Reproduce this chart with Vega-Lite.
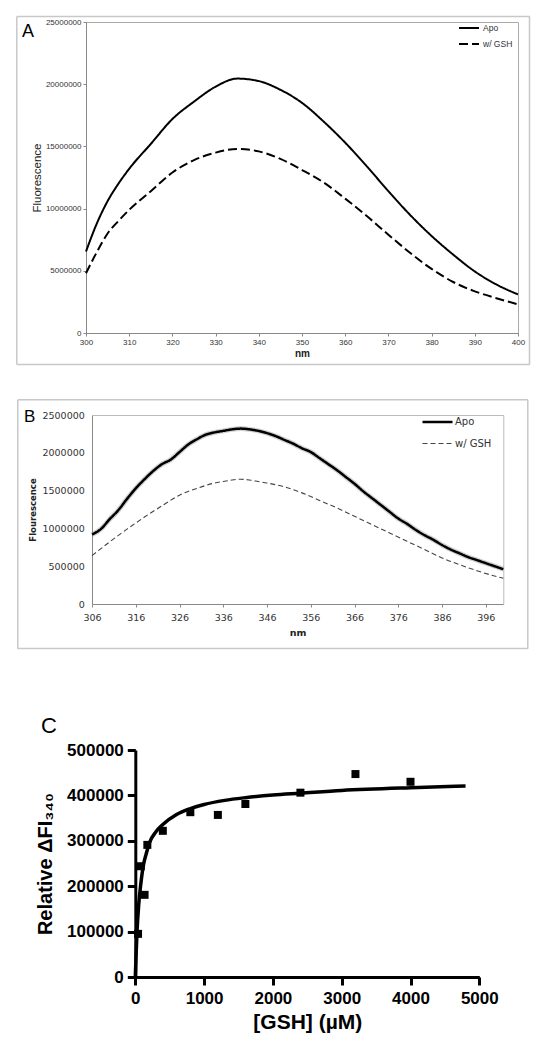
{
  "$schema": "https://vega.github.io/schema/vega-lite/v6.json",
  "padding": {"left": 13, "top": 15, "right": 0, "bottom": 0},
  "background": "white",
  "config": {"view": {"stroke": null}, "font": "Liberation Sans", "axis": {"grid": false, "labelFlush": false, "labelOverlap": false}},
  "datasets": {
    "a": [
      {"nm": 300, "series": "Apo", "f": 6550000}, {"nm": 302.5, "series": "Apo", "f": 8800000}, {"nm": 305, "series": "Apo", "f": 10600000}, {"nm": 307.5, "series": "Apo", "f": 12000000}, {"nm": 310, "series": "Apo", "f": 13200000}, {"nm": 315, "series": "Apo", "f": 15200000}, {"nm": 320, "series": "Apo", "f": 17200000}, {"nm": 325, "series": "Apo", "f": 18600000}, {"nm": 330, "series": "Apo", "f": 19800000}, {"nm": 335, "series": "Apo", "f": 20450000}, {"nm": 340, "series": "Apo", "f": 20250000}, {"nm": 345, "series": "Apo", "f": 19550000}, {"nm": 350, "series": "Apo", "f": 18500000}, {"nm": 355, "series": "Apo", "f": 17000000}, {"nm": 360, "series": "Apo", "f": 15300000}, {"nm": 365, "series": "Apo", "f": 13400000}, {"nm": 370, "series": "Apo", "f": 11400000}, {"nm": 375, "series": "Apo", "f": 9500000}, {"nm": 380, "series": "Apo", "f": 7800000}, {"nm": 385, "series": "Apo", "f": 6300000}, {"nm": 390, "series": "Apo", "f": 4950000}, {"nm": 395, "series": "Apo", "f": 3900000}, {"nm": 400, "series": "Apo", "f": 3100000},
      {"nm": 300, "series": "w/ GSH", "f": 4800000}, {"nm": 302.5, "series": "w/ GSH", "f": 6500000}, {"nm": 305, "series": "w/ GSH", "f": 8000000}, {"nm": 307.5, "series": "w/ GSH", "f": 9000000}, {"nm": 310, "series": "w/ GSH", "f": 9900000}, {"nm": 315, "series": "w/ GSH", "f": 11400000}, {"nm": 320, "series": "w/ GSH", "f": 12900000}, {"nm": 325, "series": "w/ GSH", "f": 13900000}, {"nm": 330, "series": "w/ GSH", "f": 14500000}, {"nm": 335, "series": "w/ GSH", "f": 14800000}, {"nm": 340, "series": "w/ GSH", "f": 14600000}, {"nm": 345, "series": "w/ GSH", "f": 14000000}, {"nm": 350, "series": "w/ GSH", "f": 13100000}, {"nm": 355, "series": "w/ GSH", "f": 12100000}, {"nm": 360, "series": "w/ GSH", "f": 10800000}, {"nm": 365, "series": "w/ GSH", "f": 9400000}, {"nm": 370, "series": "w/ GSH", "f": 7900000}, {"nm": 375, "series": "w/ GSH", "f": 6450000}, {"nm": 380, "series": "w/ GSH", "f": 5150000}, {"nm": 385, "series": "w/ GSH", "f": 4100000}, {"nm": 390, "series": "w/ GSH", "f": 3350000}, {"nm": 395, "series": "w/ GSH", "f": 2800000}, {"nm": 400, "series": "w/ GSH", "f": 2300000}
    ],
    "b": [
      {"nm": 306, "series": "Apo", "f": 920000}, {"nm": 308, "series": "Apo", "f": 990000}, {"nm": 310, "series": "Apo", "f": 1120000}, {"nm": 312, "series": "Apo", "f": 1240000}, {"nm": 314, "series": "Apo", "f": 1390000}, {"nm": 316, "series": "Apo", "f": 1530000}, {"nm": 318, "series": "Apo", "f": 1650000}, {"nm": 320, "series": "Apo", "f": 1760000}, {"nm": 322, "series": "Apo", "f": 1850000}, {"nm": 324, "series": "Apo", "f": 1910000}, {"nm": 326, "series": "Apo", "f": 2010000}, {"nm": 328, "series": "Apo", "f": 2110000}, {"nm": 330, "series": "Apo", "f": 2180000}, {"nm": 332, "series": "Apo", "f": 2240000}, {"nm": 334, "series": "Apo", "f": 2270000}, {"nm": 336, "series": "Apo", "f": 2290000}, {"nm": 338, "series": "Apo", "f": 2310000}, {"nm": 340, "series": "Apo", "f": 2320000}, {"nm": 342, "series": "Apo", "f": 2310000}, {"nm": 344, "series": "Apo", "f": 2290000}, {"nm": 346, "series": "Apo", "f": 2260000}, {"nm": 348, "series": "Apo", "f": 2220000}, {"nm": 350, "series": "Apo", "f": 2170000}, {"nm": 352, "series": "Apo", "f": 2120000}, {"nm": 354, "series": "Apo", "f": 2060000}, {"nm": 356, "series": "Apo", "f": 2010000}, {"nm": 358, "series": "Apo", "f": 1930000}, {"nm": 360, "series": "Apo", "f": 1850000}, {"nm": 362, "series": "Apo", "f": 1770000}, {"nm": 364, "series": "Apo", "f": 1680000}, {"nm": 366, "series": "Apo", "f": 1590000}, {"nm": 368, "series": "Apo", "f": 1490000}, {"nm": 370, "series": "Apo", "f": 1400000}, {"nm": 372, "series": "Apo", "f": 1310000}, {"nm": 374, "series": "Apo", "f": 1220000}, {"nm": 376, "series": "Apo", "f": 1130000}, {"nm": 378, "series": "Apo", "f": 1060000}, {"nm": 380, "series": "Apo", "f": 980000}, {"nm": 382, "series": "Apo", "f": 910000}, {"nm": 384, "series": "Apo", "f": 850000}, {"nm": 386, "series": "Apo", "f": 780000}, {"nm": 388, "series": "Apo", "f": 720000}, {"nm": 390, "series": "Apo", "f": 670000}, {"nm": 392, "series": "Apo", "f": 620000}, {"nm": 394, "series": "Apo", "f": 580000}, {"nm": 396, "series": "Apo", "f": 540000}, {"nm": 398, "series": "Apo", "f": 500000}, {"nm": 400, "series": "Apo", "f": 460000},
      {"nm": 306, "series": "w/ GSH", "f": 640000}, {"nm": 310, "series": "w/ GSH", "f": 820000}, {"nm": 314, "series": "w/ GSH", "f": 990000}, {"nm": 318, "series": "w/ GSH", "f": 1150000}, {"nm": 322, "series": "w/ GSH", "f": 1300000}, {"nm": 326, "series": "w/ GSH", "f": 1440000}, {"nm": 330, "series": "w/ GSH", "f": 1530000}, {"nm": 334, "series": "w/ GSH", "f": 1600000}, {"nm": 336, "series": "w/ GSH", "f": 1620000}, {"nm": 338, "series": "w/ GSH", "f": 1640000}, {"nm": 340, "series": "w/ GSH", "f": 1650000}, {"nm": 342, "series": "w/ GSH", "f": 1640000}, {"nm": 344, "series": "w/ GSH", "f": 1620000}, {"nm": 346, "series": "w/ GSH", "f": 1600000}, {"nm": 350, "series": "w/ GSH", "f": 1550000}, {"nm": 354, "series": "w/ GSH", "f": 1470000}, {"nm": 358, "series": "w/ GSH", "f": 1370000}, {"nm": 362, "series": "w/ GSH", "f": 1270000}, {"nm": 366, "series": "w/ GSH", "f": 1160000}, {"nm": 370, "series": "w/ GSH", "f": 1050000}, {"nm": 374, "series": "w/ GSH", "f": 940000}, {"nm": 378, "series": "w/ GSH", "f": 830000}, {"nm": 382, "series": "w/ GSH", "f": 720000}, {"nm": 386, "series": "w/ GSH", "f": 610000}, {"nm": 390, "series": "w/ GSH", "f": 520000}, {"nm": 394, "series": "w/ GSH", "f": 440000}, {"nm": 398, "series": "w/ GSH", "f": 370000}, {"nm": 400, "series": "w/ GSH", "f": 340000}
    ],
    "cpts": [
      {"gsh": 40, "dfi": 95000}, {"gsh": 80, "dfi": 244000}, {"gsh": 135, "dfi": 181000}, {"gsh": 175, "dfi": 291000}, {"gsh": 400, "dfi": 322000}, {"gsh": 800, "dfi": 363000}, {"gsh": 1200, "dfi": 357000}, {"gsh": 1600, "dfi": 381000}, {"gsh": 2400, "dfi": 406000}, {"gsh": 3200, "dfi": 447000}, {"gsh": 4000, "dfi": 430000}
    ],
    "cfit": [
      {"gsh": 0, "dfi": 0}, {"gsh": 12, "dfi": 50000}, {"gsh": 25, "dfi": 100000}, {"gsh": 50, "dfi": 160000}, {"gsh": 80, "dfi": 205000}, {"gsh": 120, "dfi": 248000}, {"gsh": 160, "dfi": 272000}, {"gsh": 210, "dfi": 297000}, {"gsh": 300, "dfi": 320000}, {"gsh": 400, "dfi": 336000}, {"gsh": 600, "dfi": 358000}, {"gsh": 800, "dfi": 371000}, {"gsh": 1000, "dfi": 380000}, {"gsh": 1300, "dfi": 389000}, {"gsh": 1600, "dfi": 395000}, {"gsh": 2000, "dfi": 401000}, {"gsh": 2400, "dfi": 405000}, {"gsh": 3000, "dfi": 411000}, {"gsh": 4000, "dfi": 417000}, {"gsh": 4800, "dfi": 420500}
    ]
  },
  "spacing": 51,
  "resolve": {"scale": {"strokeDash": "independent", "color": "independent", "strokeWidth": "independent"}, "legend": {"strokeDash": "independent", "color": "independent", "strokeWidth": "independent"}},
  "vconcat": [
    {
      "spacing": 28,
      "resolve": {"scale": {"strokeDash": "independent", "color": "independent", "strokeWidth": "independent"}, "legend": {"strokeDash": "independent", "color": "independent", "strokeWidth": "independent"}},
      "vconcat": [
        {
          "width": 432,
          "height": 311,
          "title": {"text": "A", "anchor": "start", "frame": "group", "fontSize": 18, "fontWeight": "normal", "font": "Liberation Sans", "color": "black", "dx": -64, "dy": 25, "offset": 0},
          "view": {"stroke": "#aaaaaa", "strokeWidth": 1},
          "data": {"name": "a"},
          "resolve": {"scale": {"x": "independent", "y": "independent"}, "axis": {"x": "independent", "y": "independent"}},
          "layer": [
            {
              "mark": {"type": "line", "color": "black", "strokeWidth": 2, "interpolate": "monotone"},
              "encoding": {
                "x": {"field": "nm", "type": "quantitative", "scale": {"domain": [300, 400], "nice": false, "zero": false},
                  "axis": {"title": "nm", "titleFontSize": 10, "titleFontWeight": "bold", "titleFont": "Liberation Sans", "titlePadding": 2, "titleColor": "#222",
                    "values": [300, 310, 320, 330, 340, 350, 360, 370, 380, 390, 400], "labelFontSize": 8, "labelFont": "Liberation Sans", "labelColor": "#333", "labelPadding": 2, "tickSize": 3, "domainColor": "#888", "tickColor": "#888"}},
                "y": {"field": "f", "type": "quantitative", "scale": {"domain": [0, 25000000], "nice": false},
                  "axis": {"title": "Fluorescence", "titleFontSize": 11.5, "titleFontWeight": "normal", "titleFont": "Liberation Sans", "titlePadding": 3, "titleColor": "#222",
                    "values": [0, 5000000, 10000000, 15000000, 20000000, 25000000], "format": "d", "labelFontSize": 8, "labelFont": "Liberation Sans", "labelColor": "#333", "labelPadding": 2, "tickSize": 3, "domainColor": "#888", "tickColor": "#888"}},
                "strokeDash": {"field": "series", "type": "nominal", "scale": {"domain": ["Apo", "w/ GSH"], "range": [[1, 0], [9, 4]]},
                  "legend": {"orient": "none", "legendX": 372, "legendY": -5, "title": null, "symbolType": "stroke", "symbolSize": 400, "symbolStrokeWidth": 2, "symbolStrokeColor": "black", "labelFontSize": 8.5, "labelFont": "Liberation Sans", "labelColor": "#333", "rowPadding": 0, "padding": 0, "labelOffset": 3}}
              }
            },
            {
              "mark": {"type": "point", "opacity": 0},
              "encoding": {
                "x": {"datum": 0, "type": "quantitative", "scale": {"domain": [0, 1], "range": [-69.7, 443.3]},
                  "axis": {"orient": "top", "offset": 6, "title": null, "labels": false, "ticks": false, "domainColor": "#c8c8c8", "domainWidth": 1.5}},
                "y": {"datum": 0, "type": "quantitative", "scale": {"domain": [0, 1], "range": [342, -6]},
                  "axis": {"orient": "left", "offset": 69.7, "title": null, "labels": false, "ticks": false, "domainColor": "#c8c8c8", "domainWidth": 1.5}}
              }
            },
            {
              "mark": {"type": "point", "opacity": 0},
              "encoding": {
                "x": {"datum": 0, "type": "quantitative", "scale": {"domain": [0, 1], "range": [-69.7, 443.3]},
                  "axis": {"orient": "bottom", "offset": 31, "title": null, "labels": false, "ticks": false, "domainColor": "#c8c8c8", "domainWidth": 1.5}},
                "y": {"datum": 0, "type": "quantitative", "scale": {"domain": [0, 1], "range": [342, -6]},
                  "axis": {"orient": "right", "offset": 11, "title": null, "labels": false, "ticks": false, "domainColor": "#c8c8c8", "domainWidth": 1.5}}
              }
            }
          ]
        },
        {
          "width": 417.3,
          "height": 189,
          "title": {"text": "B", "anchor": "start", "frame": "group", "fontSize": 17, "fontWeight": "normal", "font": "Liberation Sans", "color": "black", "dx": -62, "dy": 27, "offset": 0},
          "data": {"name": "b"},
          "resolve": {"scale": {"x": "independent", "y": "independent"}, "axis": {"x": "independent", "y": "independent"}},
          "layer": [
            {
              "transform": [{"filter": "datum.series === 'Apo'"}],
              "mark": {"type": "line", "color": "#999999", "opacity": 0.45, "strokeWidth": 5, "interpolate": "monotone"},
              "encoding": {
                "x": {"field": "nm", "type": "quantitative", "scale": {"domain": [306, 400], "nice": false, "zero": false, "range": [6, 417.3]},
                  "axis": {"orient": "top", "title": null, "labels": false, "ticks": false, "domainColor": "#bbbbbb"}},
                "y": {"field": "f", "type": "quantitative", "scale": {"domain": [0, 2500000], "nice": false},
                  "axis": {"orient": "right", "title": null, "labels": false, "ticks": false, "domainColor": "#bbbbbb"}}
              }
            },
            {
              "mark": {"type": "line", "interpolate": "monotone"},
              "encoding": {
                "x": {"field": "nm", "type": "quantitative", "scale": {"domain": [306, 400], "nice": false, "zero": false, "range": [6, 417.3]},
                  "axis": {"title": "nm", "titleFontSize": 9.5, "titleFontWeight": "bold", "titleFont": "DejaVu Sans", "titlePadding": 6, "titleColor": "#222",
                    "values": [306, 316, 326, 336, 346, 356, 366, 376, 386, 396], "labelFontSize": 9.5, "labelFont": "DejaVu Sans", "labelColor": "#333", "labelPadding": 5, "tickSize": 3, "domainColor": "#888", "tickColor": "#888"}},
                "y": {"field": "f", "type": "quantitative", "scale": {"domain": [0, 2500000], "nice": false},
                  "axis": {"offset": -6, "title": "Flourescence", "titleFontSize": 8.5, "titleFontWeight": "bold", "titleFont": "DejaVu Sans", "titlePadding": 4.5, "titleColor": "#222",
                    "values": [0, 500000, 1000000, 1500000, 2000000, 2500000], "format": "d", "labelFontSize": 9.5, "labelFont": "DejaVu Sans", "labelColor": "#333", "labelPadding": 7.7, "ticks": false, "domainColor": "#888"}},
                "strokeDash": {"field": "series", "type": "nominal", "scale": {"domain": ["Apo", "w/ GSH"], "range": [[1, 0], [5, 3]]},
                  "legend": {"orient": "none", "legendX": 335, "legendY": -9.5, "title": null, "symbolType": "stroke", "symbolSize": 900, "labelFontSize": 10, "labelFont": "DejaVu Sans", "labelColor": "#333", "rowPadding": 0, "padding": 0, "labelOffset": 1}},
                "color": {"field": "series", "type": "nominal", "scale": {"domain": ["Apo", "w/ GSH"], "range": ["#000000", "#444444"]},
                  "legend": {"orient": "none", "legendX": 335, "legendY": -9.5, "title": null, "symbolType": "stroke", "symbolSize": 900, "labelFontSize": 10, "labelFont": "DejaVu Sans", "labelColor": "#333", "rowPadding": 0, "padding": 0, "labelOffset": 1}},
                "strokeWidth": {"field": "series", "type": "nominal", "scale": {"domain": ["Apo", "w/ GSH"], "range": [2.5, 1.1]},
                  "legend": {"orient": "none", "legendX": 335, "legendY": -9.5, "title": null, "symbolType": "stroke", "symbolSize": 900, "labelFontSize": 10, "labelFont": "DejaVu Sans", "labelColor": "#333", "rowPadding": 0, "padding": 0, "labelOffset": 1}}
              }
            },
            {
              "mark": {"type": "point", "opacity": 0},
              "encoding": {
                "x": {"datum": 0, "type": "quantitative", "scale": {"domain": [0, 1], "range": [-68.7, 441.3]},
                  "axis": {"orient": "top", "offset": 15.7, "title": null, "labels": false, "ticks": false, "domainColor": "#c8c8c8", "domainWidth": 1.5}},
                "y": {"datum": 0, "type": "quantitative", "scale": {"domain": [0, 1], "range": [233.3, -15.7]},
                  "axis": {"orient": "left", "offset": 68.7, "title": null, "labels": false, "ticks": false, "domainColor": "#c8c8c8", "domainWidth": 1.5}}
              }
            },
            {
              "mark": {"type": "point", "opacity": 0},
              "encoding": {
                "x": {"datum": 0, "type": "quantitative", "scale": {"domain": [0, 1], "range": [-68.7, 441.3]},
                  "axis": {"orient": "bottom", "offset": 44, "title": null, "labels": false, "ticks": false, "domainColor": "#c8c8c8", "domainWidth": 1.5}},
                "y": {"datum": 0, "type": "quantitative", "scale": {"domain": [0, 1], "range": [233.3, -15.7]},
                  "axis": {"orient": "right", "offset": 24, "title": null, "labels": false, "ticks": false, "domainColor": "#c8c8c8", "domainWidth": 1.5}}
              }
            }
          ]
        }
      ]
    },
    {
      "width": 393.3,
      "height": 227,
      "title": {"text": "C", "anchor": "start", "frame": "group", "fontSize": 22, "fontWeight": "normal", "font": "Liberation Sans", "color": "black", "dx": -45, "offset": 3},
      "encoding": {
        "x": {"field": "gsh", "type": "quantitative", "scale": {"domain": [0, 5000], "nice": false, "range": [49.3, 393.3]},
          "axis": {"title": "[GSH] (µM)", "titleFontSize": 21, "titleFontWeight": "bold", "titleFont": "Liberation Sans", "titlePadding": 5, "titleColor": "black",
            "values": [0, 1000, 2000, 3000, 4000, 5000], "format": "d", "labelFontSize": 17, "labelFontWeight": "bold", "labelFont": "Liberation Sans", "labelColor": "black", "labelPadding": 5.2, "tickSize": 8, "tickWidth": 3, "domainWidth": 3, "domainColor": "black", "tickColor": "black"}},
        "y": {"field": "dfi", "type": "quantitative", "scale": {"domain": [0, 500000], "nice": false},
          "axis": {"offset": -49.3, "title": "Relative ΔFI₃₄₀", "titleFontSize": 20, "titleFontWeight": "bold", "titleFont": "Liberation Sans", "titlePadding": 11, "titleColor": "black",
            "values": [0, 100000, 200000, 300000, 400000, 500000], "format": "d", "labelFontSize": 17, "labelFontWeight": "bold", "labelFont": "Liberation Sans", "labelColor": "black", "labelPadding": 4, "tickSize": 8, "tickWidth": 3, "domainWidth": 3, "domainColor": "black", "tickColor": "black"}}
      },
      "layer": [
        {"data": {"name": "cfit"}, "mark": {"type": "line", "color": "black", "strokeWidth": 3.5, "interpolate": "monotone"}},
        {"data": {"name": "cpts"}, "mark": {"type": "point", "shape": "square", "filled": true, "color": "black", "size": 64, "opacity": 1}}
      ]
    }
  ]
}
